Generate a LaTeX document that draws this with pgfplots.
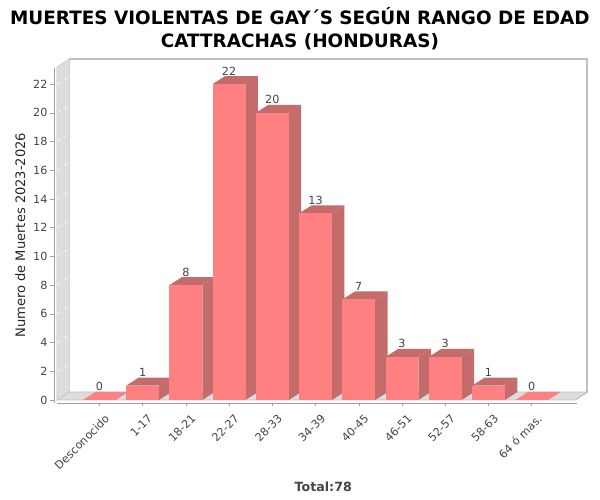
\documentclass[border=0pt]{standalone}
\usepackage{pgfplots}
\pgfplotsset{compat=1.18}
\usepackage{pgfplotstable}
\usepackage{fontspec}
\setmainfont{DejaVu Sans}
\definecolor{barfront}{RGB}{255,128,128}
\definecolor{barside}{RGB}{196,108,108}
\definecolor{wallgray}{RGB}{221,221,221}
\definecolor{edgegray}{RGB}{192,192,192}
\definecolor{tickgray}{RGB}{160,160,160}
\definecolor{textgray}{RGB}{68,68,68}

\pgfplotstableread{
idx v
0 0
1 1
2 8
3 22
4 20
5 13
6 7
7 3
8 3
9 1
10 0
}\datatable

\begin{document}
\begin{tikzpicture}
\begin{axis}[
  width=388.5pt, height=249.75pt, scale only axis,
  xmin=-0.98, xmax=11.0, ymin=0, ymax=23.19,
  clip=false,
  axis line style={draw=none},
  major tick length=0pt,
  xtick={0,...,10},
  xticklabels={Desconocido,1-17,18-21,22-27,28-33,34-39,40-45,46-51,52-57,58-63,64 ó mas.},
  ytick={0,2,...,22},
  tick label style={font=\fontsize{8.4}{10}\selectfont, text=textgray},
  xticklabel style={inner sep=0pt, xshift=3.5pt, yshift=-10pt, rotate=45, anchor=north east},
  yticklabel style={inner sep=0pt, xshift=-7pt},
  /pgf/number format/assume math mode=true,
]
% bounding box
\path (rel axis cs:-0.1100,-0.3003) rectangle (rel axis cs:1.0483,1.2012);
% back wall
\fill[white] (axis cs:-0.691,0.557) rectangle (axis cs:11.289,23.747);
% left wall
\fill[wallgray, draw=edgegray] (axis cs:-0.98,0) -- (axis cs:-0.98,23.19) -- (axis cs:-0.691,23.747) -- (axis cs:-0.691,0.557) -- cycle;
% floor
\fill[wallgray, draw=edgegray] (axis cs:-0.98,0) -- (axis cs:11.0,0) -- (axis cs:11.289,0.557) -- (axis cs:-0.691,0.557) -- cycle;
% back wall edges
\draw[edgegray, line width=1.5pt] (axis cs:-0.691,23.747) -- (axis cs:11.289,23.747) -- (axis cs:11.289,0.557);
\draw[edgegray, line width=0.8pt] (axis cs:11.289,0.557) -- (axis cs:11.0,0);
% grid on left wall
\pgfplotsinvokeforeach{2,4,...,22}{
  \draw[white, dashed, line width=0.4pt] (axis cs:-0.98,#1) -- (axis cs:-0.691,#1+0.557);
}
% axis lines and ticks
\draw[tickgray] (axis cs:-1.049,-0.209) -- (axis cs:-1.049,23.12);
\draw[tickgray] (axis cs:-0.98,-0.209) -- (axis cs:11.05,-0.209);
\pgfplotsinvokeforeach{0,2,...,22}{
  \draw[tickgray] (axis cs:-1.141,#1) -- (axis cs:-1.049,#1);
}
\pgfplotsinvokeforeach{0,...,10}{
  \draw[tickgray] (axis cs:#1,-0.209) -- (axis cs:#1,-0.418);
}
% bars
\pgfplotsforeachungrouped \i in {0,...,10}{%
  \pgfplotstablegetelem{\i}{v}\of\datatable
  \pgfmathsetmacro\val{\pgfplotsretval}%
  \pgfmathsetmacro\xl{\i-0.38}%
  \pgfmathsetmacro\xr{\i+0.38}%
  \pgfmathsetmacro\xlb{\i-0.38+0.289}%
  \pgfmathsetmacro\xrb{\i+0.38+0.289}%
  \pgfmathsetmacro\yt{\val+0.557}%
  \pgfmathtruncatemacro\pos{\val>0}%
  \ifnum\pos=1
    \edef\temp{%
      \noexpand\addplot[mark=none, draw=none, fill=barside] coordinates {(\xr,0) (\xrb,0.557) (\xrb,\yt) (\xr,\val)};
      \noexpand\addplot[mark=none, draw=none, fill=barside] coordinates {(\xl,\val) (\xr,\val) (\xrb,\yt) (\xlb,\yt)};
      \noexpand\addplot[mark=none, draw=none, fill=barfront] coordinates {(\xl,0) (\xr,0) (\xr,\val) (\xl,\val)};
    }%
  \else
    \edef\temp{%
      \noexpand\addplot[mark=none, draw=none, fill=barfront] coordinates {(\xl,0) (\xr,0) (\xrb,0.557) (\xlb,0.557)};
    }%
  \fi
  \temp
}
% value labels
\addplot[draw=none, mark=none, point meta=y, nodes near coords,
  every node near coord/.append style={font=\fontsize{8.4}{10}\selectfont, text=textgray, inner sep=0pt, anchor=south, yshift=6.5pt}]
  table[x=idx, y=v] {\datatable};
% texts
\node[font=\bfseries\fontsize{13.8}{17.25}\selectfont, align=center] at (rel axis cs:0.469,1.116) {MUERTES VIOLENTAS DE GAY´S SEGÚN RANGO DE EDAD\\CATTRACHAS (HONDURAS)};
\node[rotate=90, font=\fontsize{9.8}{11}\selectfont, text=black!85] at (rel axis cs:-0.071,0.495) {Numero de Muertes 2023-2026};
\node[font=\bfseries\fontsize{9.5}{11}\selectfont, text=textgray] at (rel axis cs:0.514,-0.261) {Total:78};
\end{axis}
\end{tikzpicture}
\end{document}
